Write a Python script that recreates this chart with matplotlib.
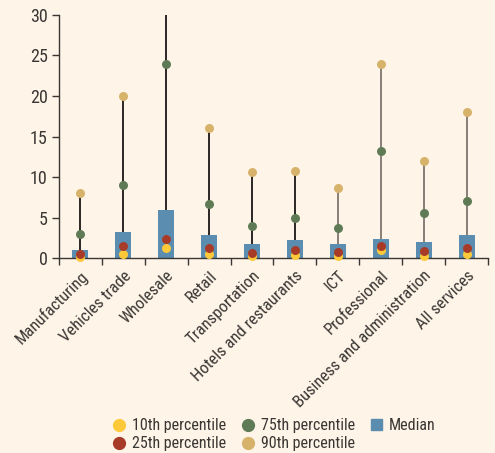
import numpy as np
import matplotlib
matplotlib.use("Agg")
import matplotlib.pyplot as plt
from matplotlib.lines import Line2D
from matplotlib.patches import Patch

# data
categories = ["Manufacturing", "Vehicles trade", "Wholesale", "Retail", "Transportation",
              "Hotels and restaurants", "ICT", "Professional", "Business and administration",
              "All services"]
median = [1.0, 3.2, 6.0, 2.9, 1.7, 2.3, 1.7, 2.4, 2.05, 2.9]
p10 = [0.12, 0.46, 1.2, 0.54, 0.3, 0.45, 0.25, 1.0, 0.25, 0.55]
p25 = [0.46, 1.45, 2.35, 1.24, 0.6, 1.0, 0.75, 1.5, 0.87, 1.24]
p75 = [2.93, 9.0, 24.0, 6.67, 4.0, 5.0, 3.67, 13.2, 5.6, 7.0]
p90 = [8.08, 20.0, 35.0, 16.0, 10.6, 10.8, 8.65, 24.0, 12.0, 18.0]  # wholesale runs off the top

bg = "#fef4e8"
txt = "#3a3633"
c10, c25, c75, c90, cmed = "#fdc93a", "#a83b27", "#5e7b55", "#d7b26b", "#5b8db0"

plt.rcParams['font.family'] = ['Roboto Condensed', 'Liberation Sans']

fig = plt.figure(figsize=(4.95, 4.53), dpi=100, facecolor=bg)
ax = fig.add_axes([0.119, 0.430, 0.867, 0.537], facecolor=bg)

x = np.arange(len(categories))
line_cols = ["#2b2624"] * 6 + ["#877f77"] * 4

for i in x:
    ax.plot([i, i], [0, p90[i]], color=line_cols[i], lw=1.4, zorder=1)
ax.bar(x, median, width=0.37, color=cmed, zorder=2)

ms = 42
ax.scatter(x, p10, s=ms, color=c10, zorder=3, clip_on=False, linewidths=0)
ax.scatter(x, p25, s=ms, color=c25, zorder=4, clip_on=False, linewidths=0)
ax.scatter(x, p75, s=ms, color=c75, zorder=4, clip_on=False, linewidths=0)
ax.scatter(x, p90, s=ms, color=c90, zorder=4, linewidths=0)

ax.set_xlim(-0.5, len(categories) - 0.5)
ax.set_ylim(0, 30)
ax.set_yticks([0, 5, 10, 15, 20, 25, 30])
ax.tick_params(axis='y', labelsize=13, colors=txt, length=5, width=1, pad=3)

ax.set_xticks(np.arange(-0.5, len(categories), 1.0))
ax.set_xticklabels([])
ax.tick_params(axis='x', which='major', direction='out', length=5, width=1, color=txt)
ax.set_xticks(x, minor=True)
ax.set_xticklabels(categories, minor=True, rotation=45, ha='right',
                   rotation_mode='anchor', fontsize=12, color=txt)
ax.tick_params(axis='x', which='minor', length=0, pad=7)

for s in ['top', 'right']:
    ax.spines[s].set_visible(False)
for s in ['left', 'bottom']:
    ax.spines[s].set_color(txt)
    ax.spines[s].set_linewidth(1)

handles = [
    Line2D([], [], marker='o', ls='', color=c10, markersize=8.5, label='10th percentile'),
    Line2D([], [], marker='o', ls='', color=c25, markersize=8.5, label='25th percentile'),
    Line2D([], [], marker='o', ls='', color=c75, markersize=8.5, label='75th percentile'),
    Line2D([], [], marker='o', ls='', color=c90, markersize=8.5, label='90th percentile'),
    Patch(color=cmed, label='Median'),
]
leg = fig.legend(handles=handles, ncol=3, loc='lower center', bbox_to_anchor=(0.555, -0.016),
                 frameon=False, fontsize=11.5, handlelength=0.7, handletextpad=0.45,
                 columnspacing=1.0, labelspacing=0.2, borderaxespad=0.15)
for t in leg.get_texts():
    t.set_color(txt)

fig.savefig("out.png", dpi=100, facecolor=bg)
